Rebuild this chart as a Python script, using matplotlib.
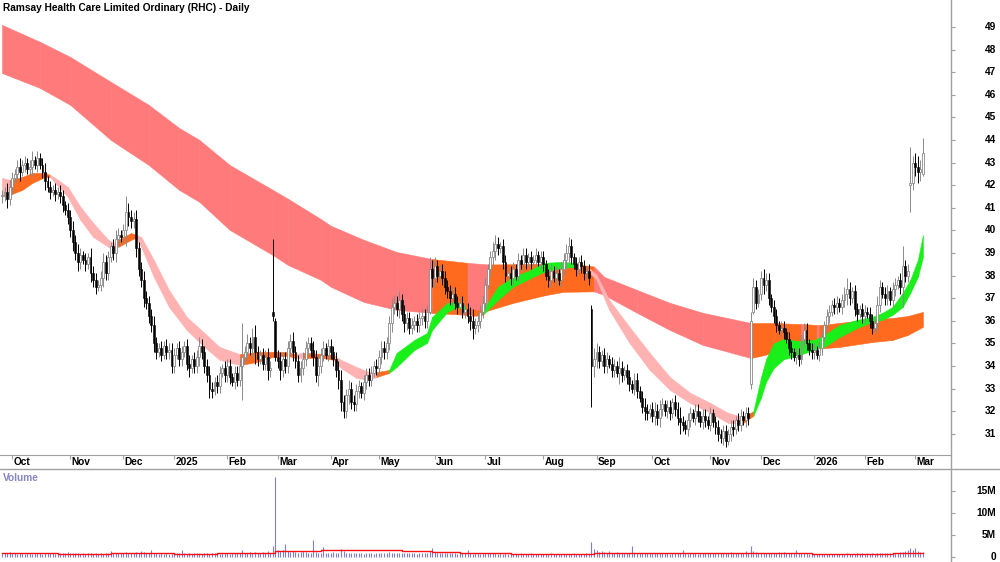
import numpy as np
import pandas as pd
import matplotlib
matplotlib.use("Agg")
import matplotlib.pyplot as plt
from matplotlib.lines import Line2D
import matplotlib.transforms as mtrans

plt.rcParams['font.family'] = ['Liberation Sans', 'DejaVu Sans']

TITLE = "Ramsay Health Care Limited Ordinary (RHC) - Daily"

# ==============================
# TRADING DAYS (ASX)
# ==============================
holidays = ['2024-12-25', '2024-12-26', '2025-01-01', '2025-01-27', '2025-04-18',
            '2025-04-21', '2025-04-25', '2025-06-09', '2025-12-25', '2025-12-26',
            '2026-01-01', '2026-01-26']
dates = pd.bdate_range('2024-09-25', '2026-03-05')
dates = dates[~dates.isin(pd.to_datetime(holidays))]

# ==============================
# DAILY CLOSES (by month)
# ==============================
c_sep24 = [41.5, 41.7, 41.4, 41.9]
c_oct24 = [42.3, 42.5, 42.8, 42.6, 42.9, 43.0, 42.7, 42.8, 43.1, 42.9, 43.2, 42.9, 42.6, 42.2, 41.9, 41.7,
           41.8, 41.6, 41.7, 41.5, 41.1, 40.9, 40.6]
c_nov24 = [40.0, 39.5, 39.0, 38.6, 38.9, 38.7, 38.5, 38.8, 38.1, 37.8, 37.5, 37.6, 37.9, 38.6, 38.1, 38.8,
           39.3, 39.0, 39.6, 39.8, 39.7]
c_dec24 = [40.0, 40.8, 40.6, 40.4, 40.5, 39.2, 38.3, 37.8, 37.0, 36.8, 36.2, 35.8, 35.0, 34.6, 34.8, 34.5,
           34.9, 34.6, 34.7, 34.0]
c_jan25 = [34.5, 34.8, 34.3, 34.6, 34.9, 34.1, 33.9, 34.3, 34.0, 34.4, 34.9, 34.6, 34.0, 33.6, 33.0, 32.9,
           33.3, 33.1, 33.7, 33.9, 33.6]
c_feb25 = [34.0, 33.5, 33.3, 33.7, 33.4, 34.0, 34.4, 34.6, 35.0, 34.8, 35.3, 34.6, 34.3, 34.5, 34.1, 34.4,
           33.8, 33.9, 36.2, 34.4]
c_mar25 = [34.2, 33.8, 34.3, 34.0, 34.8, 35.1, 34.6, 34.2, 33.6, 33.9, 34.3, 34.8, 35.0, 34.7, 34.4, 33.6,
           34.0, 34.5, 34.8, 34.5, 34.9]
c_apr25 = [34.6, 34.3, 33.8, 33.4, 32.4, 32.0, 32.7, 33.0, 32.4, 32.3, 32.9, 33.1, 32.8, 33.3, 33.6, 33.4,
           33.7, 34.0, 33.9]
c_may25 = [34.4, 34.8, 34.6, 35.0, 35.9, 36.6, 36.8, 36.5, 36.9, 36.3, 35.9, 36.1, 35.7, 35.8, 36.0, 35.8,
           36.1, 36.2, 36.0, 36.4, 38.3, 37.9]
c_jun25 = [38.4, 38.0, 38.2, 37.9, 37.5, 37.3, 37.0, 37.2, 36.8, 36.6, 36.8, 36.4, 36.5, 36.2, 36.0, 35.7,
           35.8, 36.0, 36.4, 36.8]
c_jul25 = [37.6, 38.3, 38.8, 39.1, 39.4, 39.2, 39.3, 38.6, 38.0, 38.1, 37.9, 38.3, 38.0, 38.7, 38.5, 38.9,
           38.6, 38.8, 38.6, 38.7, 38.9, 38.6, 38.8]
c_aug25 = [38.5, 38.0, 37.8, 38.2, 37.9, 38.1, 37.8, 38.3, 38.7, 39.0, 39.3, 38.8, 38.5, 38.3, 38.6, 38.4,
           38.1, 38.2, 37.9, 34.0, 34.3]
c_sep25 = [34.6, 34.2, 34.5, 34.0, 34.3, 34.1, 33.8, 34.0, 33.7, 33.9, 33.6, 33.8, 33.5, 33.2, 33.0, 33.4,
           32.9, 32.6, 32.2, 32.0, 31.9, 32.1]
c_oct25 = [31.8, 32.0, 31.7, 32.1, 32.3, 32.0, 32.2, 31.9, 32.4, 32.1, 31.7, 31.5, 31.4, 31.2, 31.6, 31.9,
           31.7, 32.0, 31.8, 31.5, 31.8, 31.6, 31.4]
c_nov25 = [31.9, 31.5, 31.3, 31.0, 30.8, 31.1, 30.7, 31.0, 31.3, 31.2, 31.6, 31.4, 31.8, 31.6, 31.9, 31.7,
           36.0, 37.5, 36.8, 37.2]
c_dec25 = [37.9, 37.6, 37.8, 37.0, 36.6, 36.2, 35.8, 35.6, 35.7, 35.5, 35.2, 34.8, 34.6, 34.4, 34.5, 34.3,
           35.2, 35.6, 35.0, 34.7, 34.6]
c_jan26 = [34.7, 34.5, 34.8, 35.3, 35.8, 36.2, 36.4, 36.7, 36.6, 36.8, 36.6, 36.9, 37.2, 37.4, 37.0, 37.3,
           36.5, 36.3, 36.5, 36.2]
c_feb26 = [36.4, 36.3, 36.0, 35.7, 35.9, 36.7, 37.5, 37.2, 37.0, 37.3, 36.9, 37.4, 37.6, 37.8, 37.5, 38.4,
           38.0, 38.2, 42.1, 43.0]
c_mar26 = [42.8, 42.6, 42.7, 43.4]

# wick length beyond the body, per bar
w_sep24 = [0.3, 0.2, 0.4, 0.3]
w_oct24 = [0.3, 0.2, 0.3, 0.4, 0.2, 0.3, 0.2, 0.3, 0.4, 0.2, 0.3, 0.2, 0.3, 0.4, 0.2, 0.3, 0.2, 0.3, 0.2, 0.3,
           0.3, 0.2, 0.3]
w_nov24 = [0.3, 0.4, 0.3, 0.4, 0.3, 0.2, 0.3, 0.2, 0.4, 0.3, 0.3, 0.2, 0.3, 0.4, 0.3, 0.3, 0.2, 0.3, 0.4, 0.3,
           0.2]
w_dec24 = [0.3, 0.7, 0.4, 0.3, 0.3, 0.4, 0.3, 0.3, 0.4, 0.3, 0.3, 0.3, 0.4, 0.3, 0.2, 0.3, 0.2, 0.3, 0.3, 0.3]
w_jan25 = [0.3, 0.2, 0.3, 0.3, 0.2, 0.3, 0.4, 0.2, 0.3, 0.3, 0.4, 0.3, 0.3, 0.3, 0.4, 0.3, 0.2, 0.3, 0.3, 0.2,
           0.3]
w_feb25 = [0.3, 0.3, 0.2, 0.3, 0.3, 0.3, 1.5, 0.3, 0.4, 0.3, 0.4, 0.5, 0.3, 0.2, 0.3, 0.3, 0.4, 0.3, 0.3, 0.3]
w_mar25 = [0.3, 0.4, 0.3, 0.3, 0.3, 0.3, 0.4, 0.3, 0.3, 0.3, 0.3, 0.3, 0.3, 0.3, 0.4, 0.3, 0.5, 0.3, 0.3, 0.2,
           0.3]
w_apr25 = [0.3, 0.3, 0.3, 0.4, 0.4, 0.3, 0.3, 0.4, 0.3, 0.3, 0.3, 0.3, 0.2, 0.3, 0.3, 0.3, 0.3, 0.2, 0.3]
w_may25 = [0.3, 0.3, 0.3, 0.3, 0.3, 0.4, 0.3, 0.3, 0.4, 0.3, 0.4, 0.3, 0.3, 0.3, 0.2, 0.3, 0.3, 0.3, 0.3, 0.3,
           0.4, 0.4]
w_jun25 = [0.4, 0.3, 0.3, 0.3, 0.3, 0.3, 0.3, 0.3, 0.3, 0.3, 0.3, 0.3, 0.3, 0.3, 0.4, 0.5, 0.3, 0.3, 0.3, 0.3]
w_jul25 = [0.3, 0.2, 0.3, 0.4, 0.4, 0.3, 0.2, 0.3, 0.3, 0.2, 0.3, 0.3, 0.2, 0.3, 0.2, 0.3, 0.3, 0.2, 0.3, 0.2,
           0.3, 0.2, 0.3]
w_aug25 = [0.3, 0.2, 0.3, 0.3, 0.2, 0.3, 0.2, 0.3, 0.3, 0.4, 0.4, 0.3, 0.2, 0.3, 0.2, 0.3, 0.3, 0.2, 0.3, 0.3,
           0.5]
w_sep25 = [0.4, 0.3, 0.2, 0.3, 0.3, 0.2, 0.3, 0.3, 0.2, 0.5, 0.3, 0.2, 0.3, 0.3, 0.2, 0.3, 0.3, 0.2, 0.3, 0.4,
           0.3, 0.2]
w_oct25 = [0.3, 0.4, 0.3, 0.4, 0.3, 0.2, 0.3, 0.3, 0.2, 0.3, 0.3, 0.5, 0.3, 0.2, 0.3, 0.3, 0.2, 0.3, 0.3, 0.2,
           0.3, 0.3, 0.2]
w_nov25 = [0.3, 0.2, 0.3, 0.3, 0.2, 0.3, 0.3, 0.2, 0.3, 0.3, 0.2, 0.3, 0.3, 0.2, 0.3, 0.3, 0.2, 0.3, 0.3, 0.2]
w_dec25 = [0.3, 0.4, 0.3, 0.3, 0.2, 0.3, 0.3, 0.2, 0.3, 0.3, 0.2, 0.3, 0.3, 0.2, 0.3, 0.3, 0.2, 0.3, 0.3, 0.2,
           0.3]
w_jan26 = [0.3, 0.2, 0.3, 0.3, 0.2, 0.3, 0.3, 0.2, 0.3, 0.3, 0.2, 0.3, 0.3, 0.5, 0.3, 0.2, 0.3, 0.3, 0.2, 0.3]
w_feb26 = [0.3, 0.2, 0.3, 0.3, 0.2, 0.4, 0.3, 0.2, 0.3, 0.3, 0.2, 0.3, 0.3, 0.2, 0.3, 0.9, 0.3, 0.3, 0.3, 0.3]
w_mar26 = [0.4, 0.5, 0.4, 0.7]

# bars whose open / high / low are read directly (gaps, spikes)
spec_idx = [107, 108, 169, 233, 296, 297, 359, 364]
spec_open = [36.4, 36.0, 36.4, 36.5, 33.2, 36.4, 42.0, 42.5]
spec_high = [39.6, 36.1, 38.8, 36.7, 36.4, 37.9, 43.7, 44.1]
spec_low = [36.0, 34.2, 36.3, 32.2, 33.0, 36.3, 40.8, 42.4]

# volume, millions
v_sep24 = [0.9, 0.8, 1.0, 1.2]
v_oct24 = [0.9, 0.8, 0.7, 0.9, 0.8, 0.7, 0.8, 0.9, 0.7, 0.8, 0.9, 0.8, 0.7, 1.0, 0.9, 0.8, 0.8, 0.7, 0.9, 0.8,
           1.0, 0.9, 1.1]
v_nov24 = [1.0, 0.8, 0.9, 0.8, 0.7, 0.8, 0.7, 0.8, 0.9, 0.7, 0.8, 0.7, 0.8, 0.7, 0.8, 1.0, 1.3, 0.9, 0.8, 0.9,
           0.8]
v_dec24 = [0.9, 1.2, 0.9, 0.8, 0.9, 1.1, 1.0, 1.4, 1.2, 1.0, 0.9, 1.7, 0.9, 0.8, 0.7, 0.8, 0.7, 0.9, 0.6, 0.8]
v_jan25 = [0.7, 0.8, 0.9, 1.7, 0.8, 0.7, 0.8, 0.7, 0.8, 0.9, 0.8, 0.7, 0.9, 0.8, 0.7, 0.8, 0.9, 0.8, 0.7, 0.8,
           0.9]
v_feb25 = [0.8, 0.7, 0.9, 0.8, 0.8, 1.0, 1.5, 0.9, 0.8, 1.1, 1.0, 1.2, 0.9, 1.0, 1.1, 0.9, 1.3, 1.0, 2.6, 18.2]
v_mar25 = [1.6, 1.4, 1.5, 2.9, 1.3, 1.2, 1.4, 1.1, 1.0, 1.2, 1.3, 1.1, 1.0, 1.0, 3.8, 1.1, 1.0, 1.0, 2.2, 0.9,
           1.0]
v_apr25 = [1.0, 1.1, 1.0, 1.0, 1.8, 1.3, 1.0, 1.0, 0.9, 0.8, 0.9, 1.0, 0.8, 0.7, 0.8, 0.9, 0.8, 0.7, 0.8]
v_may25 = [1.0, 0.8, 0.9, 0.8, 1.1, 1.0, 0.8, 0.9, 0.8, 0.8, 0.9, 1.0, 0.8, 0.9, 0.8, 0.7, 0.9, 0.8, 0.8, 0.9,
           1.4, 2.1]
v_jun25 = [1.2, 1.0, 0.9, 0.8, 0.9, 1.0, 0.8, 0.9, 0.8, 0.7, 0.8, 0.9, 0.8, 1.7, 0.8, 0.7, 0.8, 0.9, 0.7, 0.8]
v_jul25 = [0.9, 1.0, 0.8, 0.9, 0.8, 0.7, 0.8, 0.7, 0.8, 0.7, 0.8, 0.7, 0.6, 0.7, 0.8, 0.7, 0.6, 0.7, 0.8, 0.6,
           0.7, 0.6, 0.7]
v_aug25 = [0.7, 0.6, 0.7, 0.8, 0.6, 0.7, 0.6, 0.7, 0.6, 0.7, 0.6, 0.7, 0.8, 0.6, 0.7, 0.6, 0.7, 0.8, 0.7, 3.5,
           1.8]
v_sep25 = [1.6, 1.2, 1.4, 1.1, 1.0, 1.3, 0.9, 1.0, 1.1, 0.9, 0.8, 0.9, 0.8, 0.9, 2.6, 0.9, 1.0, 0.8, 0.9, 1.0,
           0.8, 0.9]
v_oct25 = [1.0, 0.9, 0.8, 0.9, 0.8, 0.9, 0.8, 0.7, 0.9, 0.8, 0.9, 0.8, 1.7, 0.8, 0.7, 0.8, 0.9, 0.8, 0.7, 0.8,
           0.9, 0.8, 0.9]
v_nov25 = [0.8, 0.9, 0.8, 1.0, 0.9, 0.8, 0.9, 0.8, 1.2, 0.9, 1.0, 0.9, 1.0, 0.9, 1.3, 1.0, 2.6, 1.4, 1.1, 1.0]
v_dec25 = [1.0, 0.9, 0.9, 1.0, 0.9, 0.8, 0.9, 1.1, 0.8, 1.1, 0.9, 0.8, 0.9, 1.0, 1.7, 0.9, 0.8, 0.9, 0.8, 0.7,
           0.6]
v_jan26 = [0.7, 0.6, 0.7, 0.6, 0.7, 0.6, 0.7, 0.6, 0.7, 0.6, 0.7, 0.6, 0.7, 0.8, 0.7, 0.6, 0.7, 0.8, 0.7, 0.8]
v_feb26 = [0.7, 0.8, 0.7, 0.8, 0.7, 0.8, 0.9, 0.8, 0.9, 0.8, 0.9, 0.8, 0.9, 1.0, 1.1, 1.1, 1.3, 1.5, 2.0, 1.6]
v_mar26 = [2.0, 1.3, 1.2, 1.1]

# volume average line (flat steps, millions)
vma_idx = [0, 22, 43, 68, 85, 108, 126, 158, 170, 181, 201, 234, 250, 320, 352, 364]
vma_val = [0.9, 0.7, 0.8, 0.7, 0.85, 1.4, 1.6, 1.4, 1.1, 0.9, 0.6, 0.8, 0.9, 0.6, 0.8, 0.8]

# ==============================
# RIBBONS (edges read at sample bars; code = colour of segment to next sample)
# ==============================
long_idx = [0, 15, 27, 43, 58, 70, 78, 90, 107, 113, 126, 130, 143, 156, 170, 184, 192, 202, 215, 222,
            234, 238, 251, 264, 277, 296, 305, 316, 317, 322, 323, 331, 344, 352, 358, 364]
long_up = [49.09, 48.34, 47.67, 46.57, 45.55, 44.53, 44.00, 42.89, 41.79, 41.40, 40.50, 40.20, 39.58, 39.04,
           38.73, 38.56, 38.49, 38.50, 38.53, 38.56, 38.40, 37.94, 37.36, 36.79, 36.35, 35.90, 35.90, 35.85,
           35.85, 35.81, 35.81, 35.90, 36.08, 36.12, 36.21, 36.39]
long_lo = [46.96, 46.30, 45.55, 44.00, 42.89, 41.79, 41.26, 40.02, 38.91, 38.47, 37.81, 37.50, 36.83, 36.48,
           36.35, 36.26, 36.45, 36.79, 37.14, 37.28, 37.30, 37.14, 36.35, 35.59, 34.93, 34.35, 34.58, 34.70,
           34.70, 34.75, 34.77, 34.84, 35.06, 35.15, 35.37, 35.73]
long_col = "PPPPPPPPPPPPPP" + "OPOOOOPPPPPOOPOPOOOOOO"

short_idx = [0, 3, 8, 12, 17, 19, 21, 26, 31, 36, 42, 44, 46, 51, 53, 55, 60, 66, 73, 80,
             86, 94, 101, 107, 113, 116, 119, 127, 131, 134, 140, 145, 148, 153, 156, 163, 168, 170, 176, 180,
             183, 186, 190, 196, 202, 209, 214, 221, 227, 232, 235, 240, 248, 256, 264, 272, 280, 287, 293, 297,
             300, 302, 305, 309, 314, 321, 325, 331, 338, 344, 348, 352, 356, 359, 362, 364]
short_up = [42.32, 42.23, 42.36, 42.54, 42.54, 42.45, 42.32, 41.92, 41.04, 40.33,
            39.58, 39.44, 39.58, 39.88, 39.80, 39.71, 38.69, 37.36, 36.17, 35.46,
            34.84, 34.52, 34.62, 34.62, 34.62, 34.53, 34.58, 34.53, 34.49, 34.27,
            33.96, 33.73, 33.73, 33.82, 34.58, 35.15, 35.46, 36.17, 36.79, 36.83,
            36.61, 36.48, 36.45, 37.50, 37.94, 38.25, 38.56, 38.60, 38.56, 38.34,
            38.03, 36.92, 35.73, 34.58, 33.51, 32.81, 32.36, 31.92, 31.74, 32.00,
            33.50, 34.30, 35.00, 35.20, 35.11, 35.15, 35.37, 35.81, 36.04, 36.17,
            36.35, 36.61, 37.23, 37.81, 38.69, 39.80]
short_lo = [41.48, 41.57, 41.79, 42.10, 42.36, 42.36, 42.10, 41.48, 40.46, 39.71,
            39.27, 39.13, 39.27, 39.58, 39.67, 39.27, 37.94, 36.61, 35.59, 34.84,
            34.27, 34.04, 34.18, 34.40, 34.45, 34.35, 34.35, 34.35, 34.27, 33.91,
            33.47, 33.38, 33.51, 33.69, 33.96, 34.71, 35.02, 35.59, 36.39, 36.61,
            36.48, 36.21, 36.26, 36.92, 37.50, 37.89, 38.16, 38.34, 38.38, 38.16,
            37.81, 36.48, 35.02, 33.82, 32.94, 32.36, 31.92, 31.48, 31.48, 31.80,
            32.60, 33.30, 33.90, 34.30, 34.44, 34.71, 34.84, 35.28, 35.68, 35.95,
            36.04, 36.26, 36.61, 37.23, 37.94, 38.82]
short_col = ("P" + "OOOO" + "PPPPPPP" + "OO" + "PPPPPPP" + "OOOO" + "P" + "OO" + "PPPP" + "O"
             + "GGGGGGG" + "OO" + "GGGGGG" + "O" + "PPPPPPPPP" + "O" + "G" * 17)

LONG_PAL = {'P': '#ff7b7b', 'O': '#ff6a1e'}
SHORT_PAL = {'P': '#ffb2b2', 'O': '#ff6a1e', 'G': '#19ef19'}

price_ticks = list(range(31, 50))
vol_ticks = [0, 5, 10, 15]
vol_tick_labels = ['0', '5M', '10M', '15M']


def cat(*parts):
    out = []
    for p in parts:
        out += p
    return np.array(out, dtype=float)


def draw_band(ax, idx, up, lo, codes, pal, z):
    for k in range(len(idx) - 1):
        c = pal[codes[k]]
        ax.fill_between(idx[k:k + 2], lo[k:k + 2], up[k:k + 2], facecolor=c, edgecolor=c,
                        lw=0.4, zorder=z)


def main():
    closes = cat(c_sep24, c_oct24, c_nov24, c_dec24, c_jan25, c_feb25, c_mar25, c_apr25, c_may25,
                 c_jun25, c_jul25, c_aug25, c_sep25, c_oct25, c_nov25, c_dec25, c_jan26, c_feb26, c_mar26)
    wicks = cat(w_sep24, w_oct24, w_nov24, w_dec24, w_jan25, w_feb25, w_mar25, w_apr25, w_may25,
                w_jun25, w_jul25, w_aug25, w_sep25, w_oct25, w_nov25, w_dec25, w_jan26, w_feb26, w_mar26)
    vols = cat(v_sep24, v_oct24, v_nov24, v_dec24, v_jan25, v_feb25, v_mar25, v_apr25, v_may25,
               v_jun25, v_jul25, v_aug25, v_sep25, v_oct25, v_nov25, v_dec25, v_jan26, v_feb26, v_mar26)
    n = len(dates)
    assert len(closes) == n and len(wicks) == n and len(vols) == n, (len(closes), len(wicks), len(vols), n)
    assert len(long_col) == len(long_idx) and len(short_col) == len(short_idx)

    x = np.arange(n)
    opens = np.r_[closes[0], closes[:-1]]
    opens[spec_idx] = spec_open
    highs = np.maximum(opens, closes) + wicks
    lows = np.minimum(opens, closes) - wicks
    highs[spec_idx] = spec_high
    lows[spec_idx] = spec_low

    W, H = 1000, 562
    fig = plt.figure(figsize=(10, 5.62), dpi=100)
    fig.patch.set_facecolor('white')
    right = 951 / W
    ax = fig.add_axes([0, 1 - 455 / H, right, 455 / H])
    axv = fig.add_axes([0, 0, right, (H - 469) / H])

    xlim = (-0.79, 375.1)

    # --------------------------
    # PRICE PANEL
    # --------------------------
    draw_band(ax, long_idx, long_up, long_lo, long_col, LONG_PAL, 1)
    draw_band(ax, short_idx, short_up, short_lo, short_col, SHORT_PAL, 2)

    rise = closes >= opens
    body = np.maximum(np.abs(closes - opens), 0.05)
    bot = np.minimum(opens, closes)
    ax.vlines(x[rise], lows[rise], highs[rise], color='#8a8a8a', lw=0.7, zorder=3)
    ax.vlines(x[~rise], lows[~rise], highs[~rise], color='#000000', lw=0.7, zorder=3)
    ax.bar(x[rise], body[rise], bottom=bot[rise], width=0.75, facecolor='white',
           edgecolor='#8a8a8a', lw=0.6, zorder=4)
    ax.bar(x[~rise], body[~rise], bottom=bot[~rise], width=0.75, facecolor='black',
           edgecolor='black', lw=0.4, zorder=4)

    ax.set_xlim(*xlim)
    ax.set_ylim(30.06, 50.19)
    for s in ['top', 'left', 'right']:
        ax.spines[s].set_visible(False)
    ax.spines['bottom'].set_color('#a0a0a0')

    month_pos = [i for i in range(1, n) if dates[i].month != dates[i - 1].month]
    month_lab = [str(dates[i].year) if dates[i].month == 1 else dates[i].strftime('%b') for i in month_pos]
    ax.set_xticks(month_pos)
    ax.tick_params(axis='x', direction='out', length=3, color='#a0a0a0', labelbottom=False)
    tr_x = mtrans.blended_transform_factory(ax.transData, fig.transFigure)
    for p, lab in zip(month_pos, month_lab):
        ax.text(p + 0.5, 1 - 462 / H, lab, transform=tr_x, ha='left', va='center',
                fontsize=7.3, weight='bold')

    ax.yaxis.tick_right()
    ax.set_yticks(price_ticks)
    ax.tick_params(axis='y', direction='out', length=3, color='#a0a0a0', labelright=False)
    tr_y = mtrans.blended_transform_factory(fig.transFigure, ax.transData)
    for t in price_ticks:
        fig.text(0.996, t, str(t), transform=tr_y, ha='right', va='center', fontsize=7.3, weight='bold')

    # --------------------------
    # VOLUME PANEL
    # --------------------------
    axv.vlines(x, 0, vols, color='#7f7fd2', lw=0.8)
    axv.plot(vma_idx, vma_val, drawstyle='steps-post', color='#ff1010', lw=1.0)
    axv.set_xlim(*xlim)
    axv.set_ylim(-1.14, 20.0)
    for s in axv.spines.values():
        s.set_visible(False)
    axv.set_xticks([])
    axv.yaxis.tick_right()
    axv.set_yticks(vol_ticks)
    axv.tick_params(axis='y', direction='out', length=3, color='#a0a0a0', labelright=False)
    tr_v = mtrans.blended_transform_factory(fig.transFigure, axv.transData)
    for t, lab in zip(vol_ticks, vol_tick_labels):
        fig.text(0.996, t, lab, transform=tr_v, ha='right', va='center', fontsize=7.3, weight='bold')

    # frame lines
    fig.add_artist(Line2D([0, 1], [1 - 469 / H] * 2, transform=fig.transFigure, color='#a0a0a0', lw=1))
    fig.add_artist(Line2D([right, right], [0, 1], transform=fig.transFigure, color='#a0a0a0', lw=1))

    fig.text(3 / W, 1 - 8 / H, TITLE, ha='left', va='center', fontsize=7.3, weight='bold')
    fig.text(3 / W, 1 - 478 / H, 'Volume', ha='left', va='center', fontsize=7.3, weight='bold',
             color='#8686c6')

    fig.savefig('out.png', dpi=100)


if __name__ == "__main__":
    main()
